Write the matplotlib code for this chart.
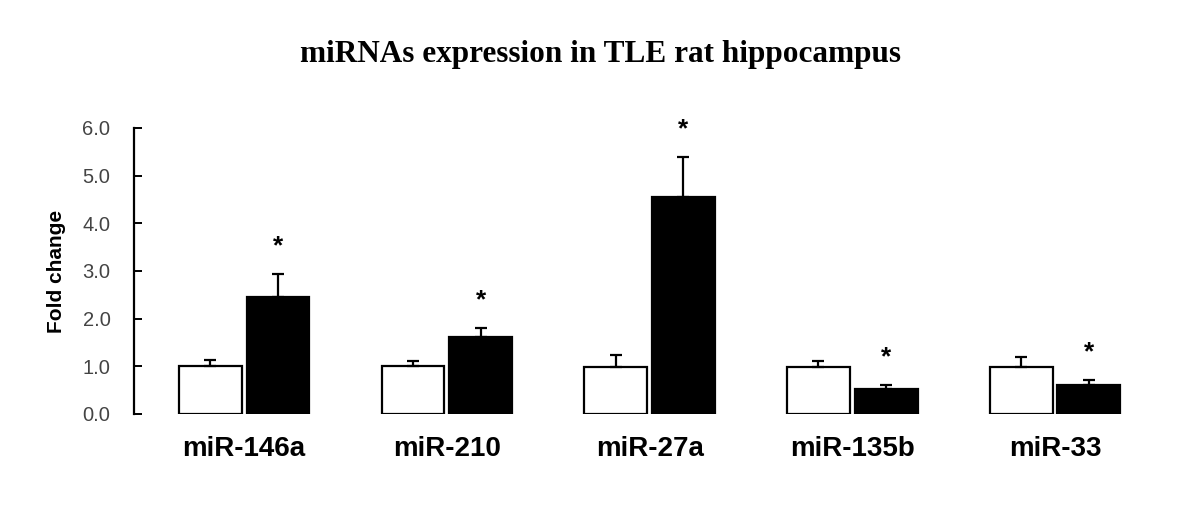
import numpy as np
import matplotlib.pyplot as plt

# data
mirnas = ['miR-146a', 'miR-210', 'miR-27a', 'miR-135b', 'miR-33']
control = [1.01, 1.00, 0.98, 0.99, 0.99]
control_err = [0.12, 0.12, 0.25, 0.13, 0.21]
tle = [2.45, 1.62, 4.55, 0.53, 0.61]
tle_err = [0.48, 0.18, 0.84, 0.07, 0.10]
yticks = [0.0, 1.0, 2.0, 3.0, 4.0, 5.0, 6.0]

fig = plt.figure(figsize=(12, 5.13), dpi=100)
ax = fig.add_axes([0.1117, 0.193, 0.83, 0.5575])

x = np.arange(len(mirnas))
w = 0.31
gap = 0.012

ax.bar(x - gap - w / 2, control, w, color='white', edgecolor='black', linewidth=1.6,
       yerr=[np.zeros(len(control)), control_err],
       error_kw=dict(ecolor='black', elinewidth=1.6, capsize=4, capthick=1.6))
ax.bar(x + gap + w / 2, tle, w, color='black', edgecolor='black', linewidth=1.6,
       yerr=[np.zeros(len(tle)), tle_err],
       error_kw=dict(ecolor='black', elinewidth=1.6, capsize=4, capthick=1.6))

# significance stars
for i in range(len(mirnas)):
    ax.text(x[i] + gap + w / 2, tle[i] + tle_err[i] + 0.58, '*', ha='center', va='center',
            fontsize=19, fontweight='bold', family='Liberation Sans')

ax.set_xlim(-0.543, 4.37)
ax.set_ylim(0, 6.0)
ax.set_yticks(yticks)
ax.set_yticklabels(['%.1f' % t for t in yticks], fontsize=14.5, color='#444444',
                   family='Liberation Sans')
ax.tick_params(axis='y', direction='in', length=6, width=1.4, pad=17)
ax.set_xticks(x)
ax.set_xticklabels(mirnas, fontsize=20, fontweight='bold', family='Liberation Sans')
ax.tick_params(axis='x', length=0, pad=16)

for s in ['top', 'right', 'bottom']:
    ax.spines[s].set_visible(False)
ax.spines['left'].set_linewidth(1.6)

ax.set_ylabel('Fold change', fontsize=15, fontweight='bold', family='Liberation Sans',
              labelpad=12)

fig.text(0.5, 0.893, 'miRNAs expression in TLE rat hippocampus', ha='center', va='center',
         fontsize=22.5, fontweight='bold', family='Liberation Serif')

plt.savefig('out.png', dpi=100)
